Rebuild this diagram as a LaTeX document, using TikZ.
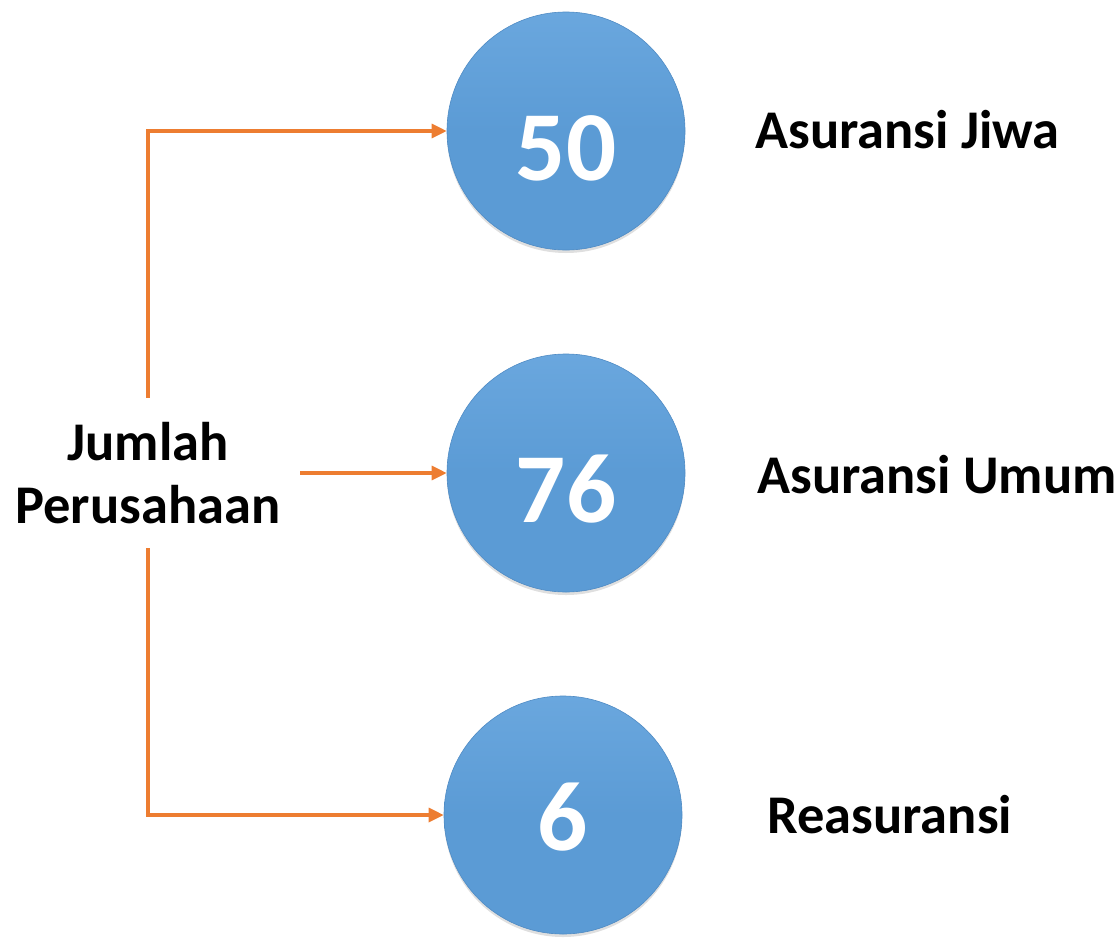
\documentclass[tikz,border=0pt]{standalone}
\usepackage{fontspec}
\setmainfont{Carlito}
\usetikzlibrary{arrows.meta,shadows}
\definecolor{ballblue}{HTML}{5B9BD5}
\definecolor{balltop}{HTML}{6AA7DE}
\definecolor{ballrim}{HTML}{4F8BC4}
\definecolor{linkorange}{HTML}{ED7D31}
\begin{document}
\begin{tikzpicture}[x=1pt, y=-1pt,
  ball/.style={shape=circle, minimum size=238pt, inner sep=0pt,
    top color=balltop, bottom color=ballblue, middle color=ballblue,
    draw=ballrim, line width=0.6pt,
    drop shadow={opacity=0.25, shadow xshift=0pt, shadow yshift=-3pt}},
  num/.style={text=white, font=\bfseries\fontsize{99}{110}\selectfont, anchor=base},
  kind/.style={text=black, font=\bfseries\fontsize{54.5}{63}\selectfont, anchor=base west},
  link/.style={draw=linkorange, line width=3.2pt, -{Triangle[length=15pt,width=14pt]}}]
\useasboundingbox (0,0) rectangle (1119,943);
% circles
\node[ball] (b50) at (566,131) {};
\node[ball] (b76) at (566,473) {};
\node[ball] (b6) at (563,815) {};
\node[num] (n50) at (566,180) {50};
\node[num] (n76) at (566,522) {76};
\node[num] (n6) at (563,850) {6};
% labels
\node[kind] (jiwa) at (752,148) {Asuransi Jiwa};
\node[kind] (umum) at (754,493) {Asuransi Umum};
\node[kind] (reas) at (764,833) {Reasuransi};
\node[text=black, font=\bfseries\fontsize{54.5}{63}\selectfont, align=center,
  minimum width=304pt, minimum height=150pt, inner sep=0pt] (jp) at (148,473)
  {Jumlah\\Perusahaan};
% arrows
\path [link] (jp.north) |- (b50);
\path [link] (jp.east) -- (b76);
\path [link] (jp.south) |- (b6);
\end{tikzpicture}
\end{document}
